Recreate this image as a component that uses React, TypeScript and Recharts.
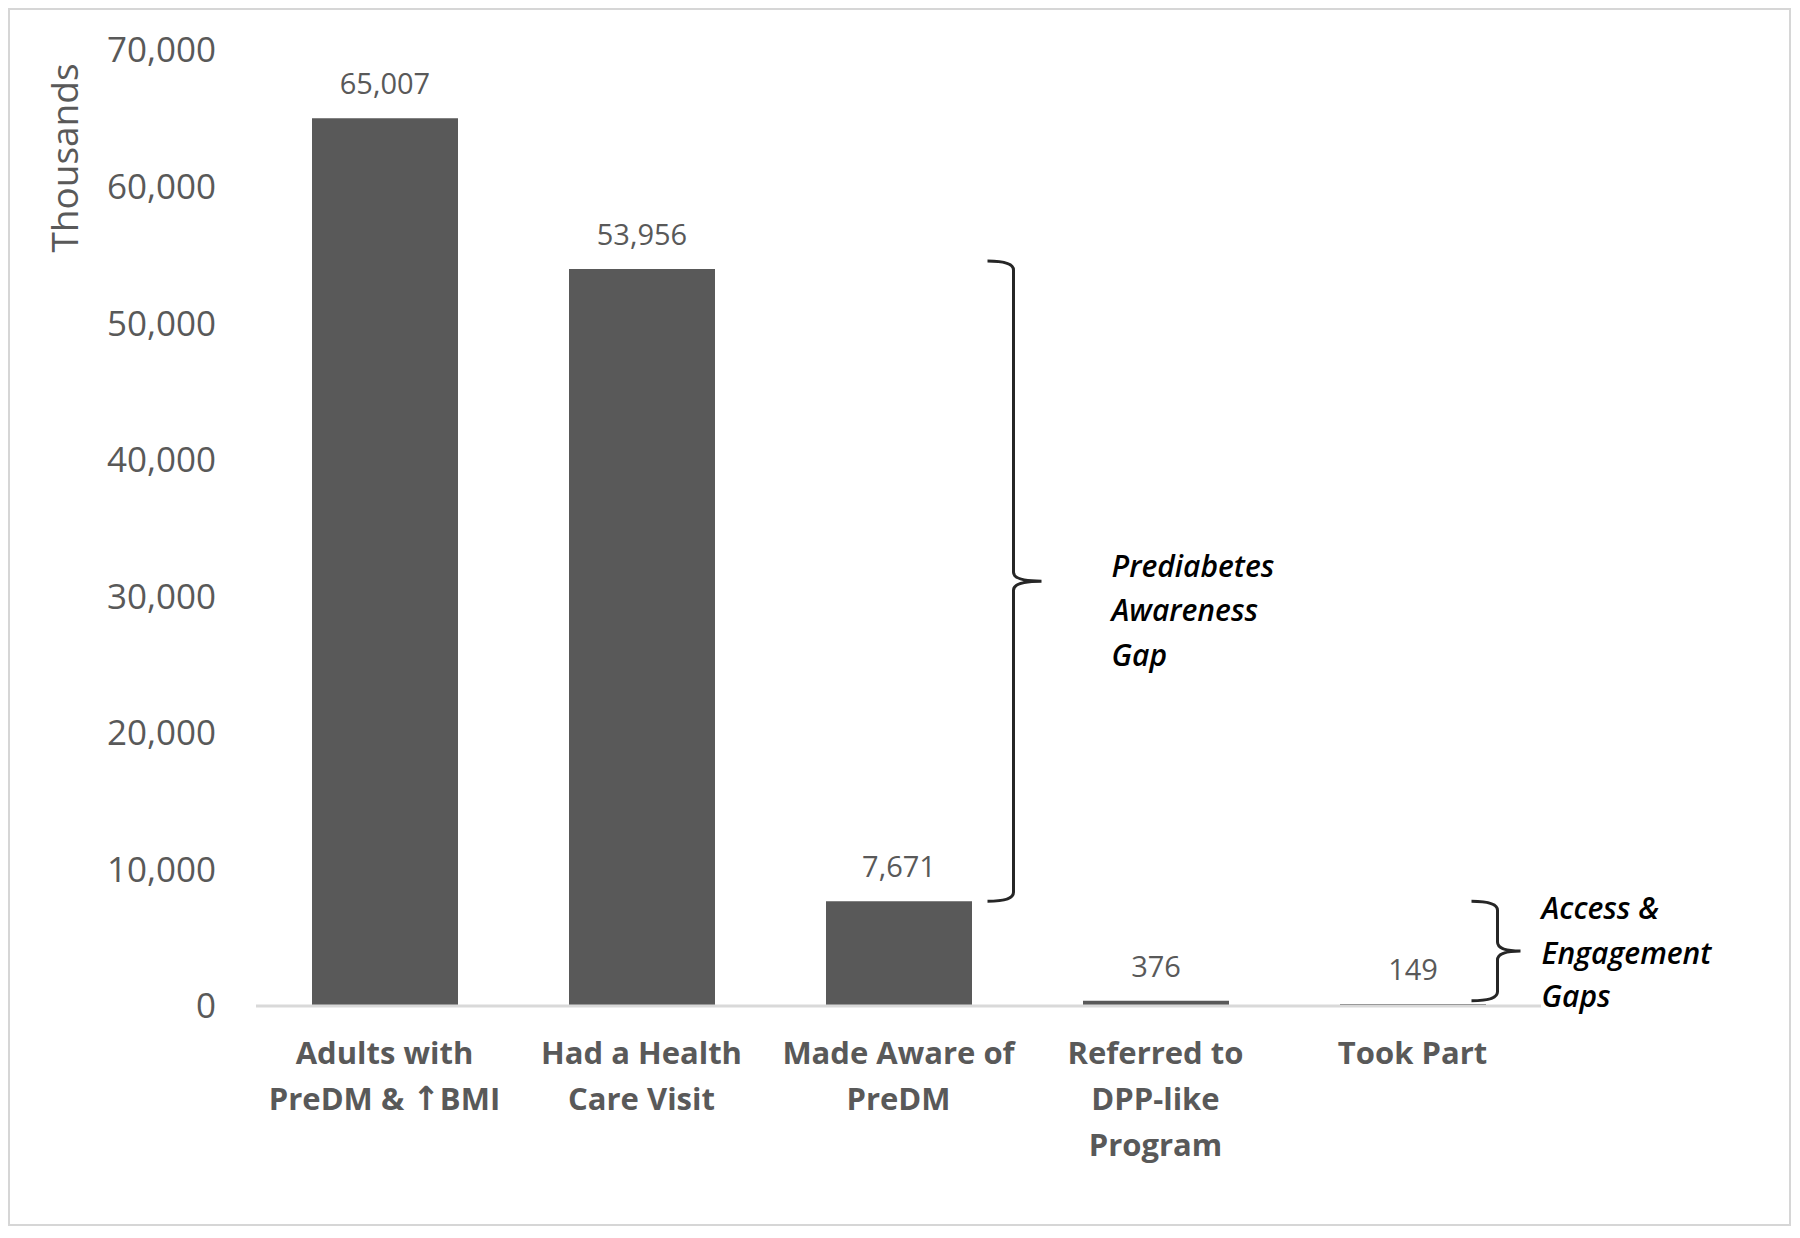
import React from "react";
import {
  BarChart,
  Bar,
  XAxis,
  YAxis,
  LabelList,
  ReferenceLine,
} from "recharts";

// funnel steps (thousands of adults)
const categoryLines: string[][] = [
  ["Adults with", "PreDM & \u2191BMI"],
  ["Had a Health", "Care Visit"],
  ["Made Aware of", "PreDM"],
  ["Referred to", "DPP-like", "Program"],
  ["Took Part"],
];
const categories = categoryLines.map((l) => l.join(" "));
const values = [65007, 53956, 7671, 376, 149];
const yTicks = [0, 10000, 20000, 30000, 40000, 50000, 60000, 70000];

// bracket spans, in data units
const awarenessGap = [53956, 7671];
const accessGap = [7671, 376];
const awarenessText = ["Prediabetes", "Awareness", "Gap"];
const accessText = ["Access &", "Engagement", "Gaps"];

const data = categories.map((name, i) => ({ name, value: values[i] }));

const FONT = "'Open Sans', sans-serif";
const GREY = "#595959";

const renderLine = (l: string) => {
  if (!l.includes("\u2191")) return l;
  const [a, b] = l.split("\u2191");
  return (
    <>
      {a}
      <tspan fontFamily="'DejaVu Sans', sans-serif" fontSize={33}>
        {"\u2191"}
      </tspan>
      {b}
    </>
  );
};

const CategoryTick = (props: any) => {
  const { x, y, payload } = props;
  const lines = categoryLines[categories.indexOf(payload.value)] || [payload.value];
  return (
    <text
      x={x}
      y={y}
      textAnchor="middle"
      fill={GREY}
      fontFamily={FONT}
      fontWeight={700}
      fontSize={31}
    >
      {lines.map((l, i) => (
        <tspan key={i} x={x} dy={i === 0 ? 50 : 46}>
          {renderLine(l)}
        </tspan>
      ))}
    </text>
  );
};

// curly bracket "}" drawn next to a category, spanning the segment's y range
const makeBrace =
  (
    text: string[],
    dx: number,
    w: number,
    tip: number,
    textDx: number,
    lineDy: number[],
    topPad = 0
  ) =>
  (props: any) => {
    const { x1, y1, y2 } = props;
    const x = x1 + dx;
    const top = Math.min(y1, y2) - topPad;
    const bot = Math.max(y1, y2);
    const ym = (top + bot) / 2;
    const r = 9;
    const d = `M${x - w},${top} Q${x},${top} ${x},${top + r} L${x},${ym - r} Q${x},${ym} ${x + tip},${ym} Q${x},${ym} ${x},${ym + r} L${x},${bot - r} Q${x},${bot} ${x - w},${bot}`;
    return (
      <g>
        <path d={d} fill="none" stroke="#262626" strokeWidth={3} />
        {text.map((t, i) => (
          <text
            key={i}
            x={x + textDx}
            y={ym + lineDy[i]}
            dy="0.35em"
            fill="#000"
            fontFamily={FONT}
            fontStyle="italic"
            fontWeight={600}
            fontSize={30}
          >
            {t}
          </text>
        ))}
      </g>
    );
  };

const App = () => {
  return (
    <div
      style={{
        width: 1779,
        height: 1214,
        border: "2px solid #d6d6d6",
        background: "#fff",
      }}
    >
      <BarChart
        width={1779}
        height={1214}
        data={data}
        margin={{ top: 40, right: 248, left: 0, bottom: 0 }}
        barSize={146}
      >
        <XAxis
          dataKey="name"
          tick={<CategoryTick />}
          tickLine={false}
          axisLine={{ stroke: "#d9d9d9", strokeWidth: 3 }}
          height={218}
          interval={0}
        />
        <YAxis
          width={246}
          domain={[0, 70000]}
          ticks={yTicks}
          tickLine={false}
          axisLine={false}
          tickMargin={34}
          tickFormatter={(v: number) => v.toLocaleString("en-US")}
          tick={{ fill: GREY, fontSize: 35, fontFamily: FONT }}
          label={(p: any) => {
            const vb = p.viewBox || { x: 0, y: 40 };
            const cx = vb.x + 55;
            const cy = vb.y + 108;
            return (
              <text
                x={cx}
                y={cy}
                transform={`rotate(-90 ${cx} ${cy})`}
                textAnchor="middle"
                dy="0.35em"
                fill={GREY}
                fontFamily={FONT}
                fontSize={37}
              >
                Thousands
              </text>
            );
          }}
        />
        <Bar dataKey="value" fill={GREY} isAnimationActive={false}>
          <LabelList
            dataKey="value"
            position="top"
            offset={24}
            formatter={(v: any) => Number(v).toLocaleString("en-US")}
            fill={GREY}
            fontSize={29}
            fontFamily={FONT}
          />
        </Bar>
        <ReferenceLine
          segment={[
            { x: categories[2], y: awarenessGap[0] },
            { x: categories[2], y: awarenessGap[1] },
          ]}
          shape={makeBrace(awarenessText, 115, 26, 28, 98, [-15, 29, 74], 8)}
        />
        <ReferenceLine
          segment={[
            { x: categories[4], y: accessGap[0] },
            { x: categories[4], y: accessGap[1] },
          ]}
          shape={makeBrace(accessText, 85, 26, 23, 44, [-43, 2, 45])}
        />
      </BarChart>
    </div>
  );
};

export default App;
